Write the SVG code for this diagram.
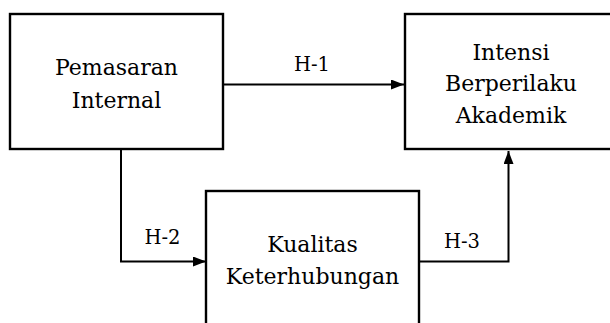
<svg xmlns="http://www.w3.org/2000/svg" width="610" height="323" viewBox="0 0 610 323">
<style>
.box{fill:#fff;stroke:#000;stroke-width:2.4}
.t{font-family:"DejaVu Serif",serif;font-size:22px;fill:#000;text-anchor:middle}
.l{font-family:"DejaVu Serif",serif;font-size:19.5px;fill:#000;text-anchor:middle}
.c{fill:none;stroke:#000;stroke-width:2}
</style>
<defs>
<marker id="ah" markerWidth="14" markerHeight="10" refX="13" refY="5" orient="auto" markerUnits="userSpaceOnUse">
<path d="M0,0 L13,5 L0,10 Z" fill="#000"/>
</marker>
</defs>
<rect width="610" height="323" fill="#fff"/>
<g id="connectors">
<path class="c" d="M223,84.5 H404" marker-end="url(#ah)"/>
<path class="c" d="M121,149 V261.5 H206" marker-end="url(#ah)"/>
<path class="c" d="M419,261.5 H508.5 V151" marker-end="url(#ah)"/>
<text class="l" x="312" y="70.5">H-1</text>
<text class="l" x="162.5" y="243.5">H-2</text>
<text class="l" x="462" y="247.5">H-3</text>
</g>
<g id="pemasaran">
<rect class="box" x="10" y="14" width="213" height="135"/>
<text class="t" x="116.5" y="75">Pemasaran</text>
<text class="t" x="116.5" y="108">Internal</text>
</g>
<g id="intensi">
<rect class="box" x="405" y="14" width="212" height="135"/>
<text class="t" x="511" y="59.5">Intensi</text>
<text class="t" x="511" y="91">Berperilaku</text>
<text class="t" x="511" y="123">Akademik</text>
</g>
<g id="kualitas">
<rect class="box" x="206" y="191" width="213" height="150"/>
<text class="t" x="312.5" y="252">Kualitas</text>
<text class="t" x="312.5" y="284">Keterhubungan</text>
</g>
</svg>
